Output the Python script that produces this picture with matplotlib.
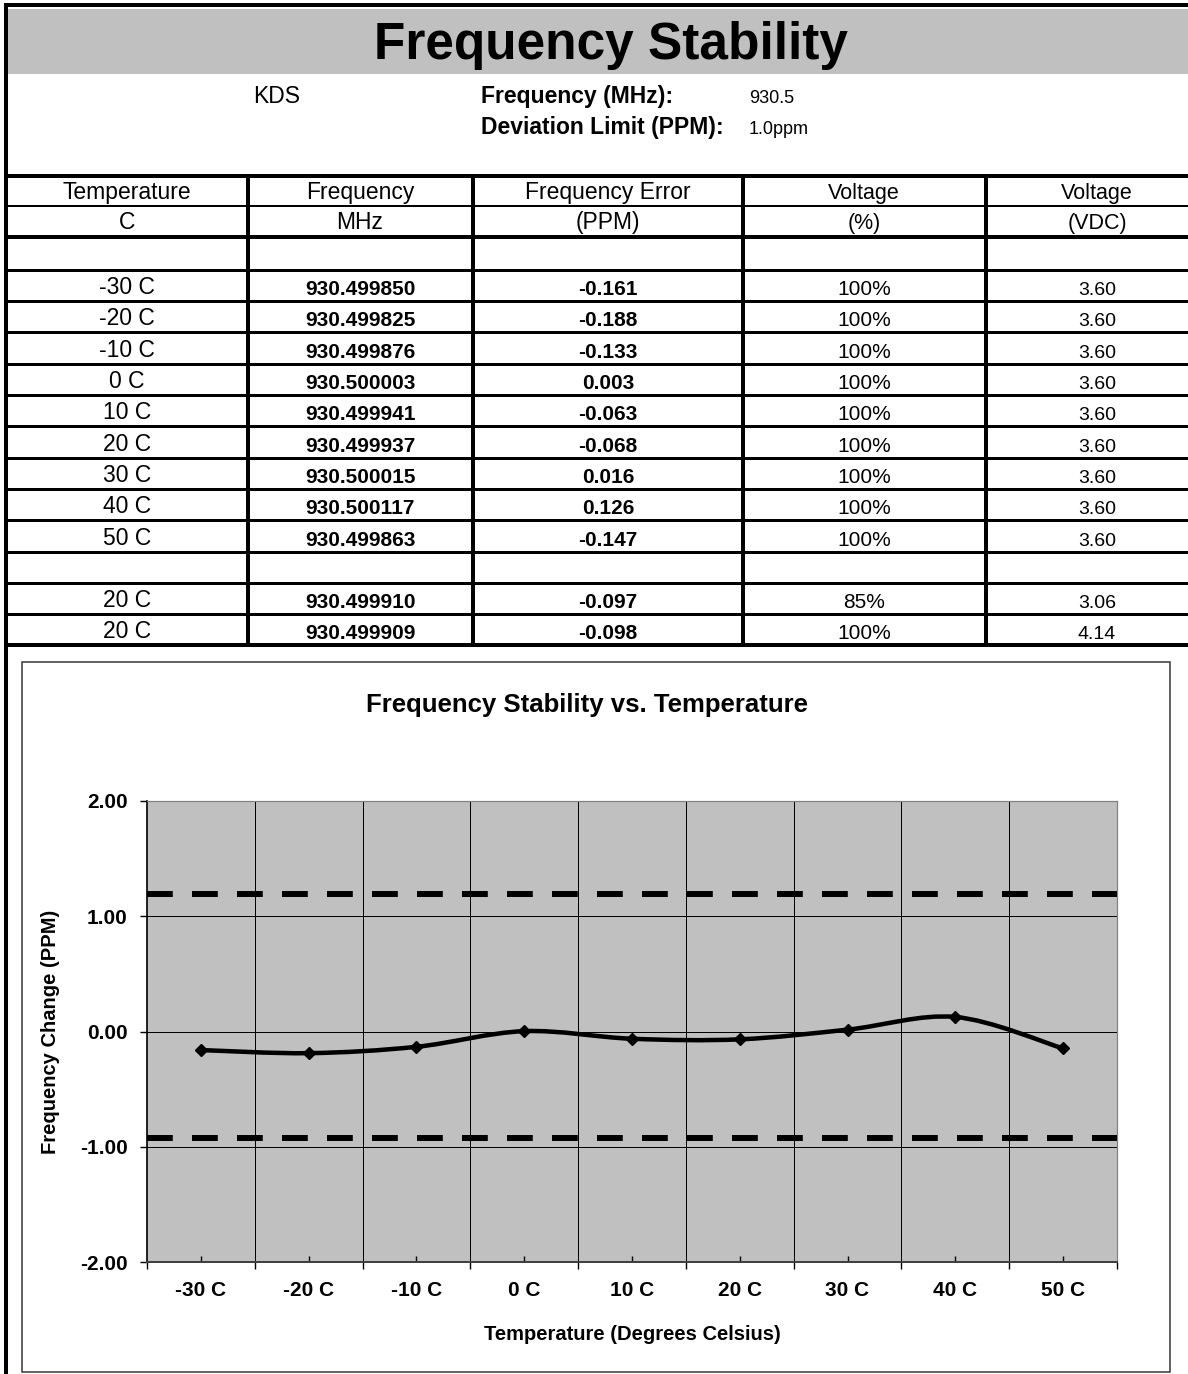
import numpy as np
import matplotlib
matplotlib.use("Agg")
import matplotlib.pyplot as plt
from matplotlib.path import Path
from matplotlib.patches import PathPatch, Rectangle

plt.rcParams["font.family"] = ["Liberation Sans", "DejaVu Sans"]

# header info
maker = "KDS"
center_freq = "930.5"
dev_limit = "1.0ppm"

# temperature sweep
temps = ["-30 C", "-20 C", "-10 C", "0 C", "10 C", "20 C", "30 C", "40 C", "50 C"]
freq_mhz = [930.499850, 930.499825, 930.499876, 930.500003, 930.499941,
            930.499937, 930.500015, 930.500117, 930.499863]
err_ppm = [-0.161, -0.188, -0.133, 0.003, -0.063, -0.068, 0.016, 0.126, -0.147]
volt_pct = [100, 100, 100, 100, 100, 100, 100, 100, 100]
volt_vdc = [3.60, 3.60, 3.60, 3.60, 3.60, 3.60, 3.60, 3.60, 3.60]

# voltage sweep at 20 C
v_temps = ["20 C", "20 C"]
v_freq = [930.499910, 930.499909]
v_err = [-0.097, -0.098]
v_pct = [85, 100]
v_vdc = [3.06, 4.14]

# limit lines on the chart
upper_limit = 1.19
lower_limit = -0.92

W, H = 1188, 1374
PX = 0.72  # points per pixel at dpi 100

fig = plt.figure(figsize=(W / 100, H / 100), dpi=100)
page = fig.add_axes([0, 0, 1, 1])
page.set_xlim(0, W)
page.set_ylim(H, 0)
page.axis("off")

# outer frame + title band
page.plot([5, W], [5, 5], color="black", lw=4 * PX, solid_capstyle="butt")
page.plot([6, 6], [3, H], color="black", lw=4 * PX, solid_capstyle="butt")
page.add_patch(Rectangle((8, 9), W - 8, 65, facecolor="#c0c0c0", edgecolor="none"))
page.text(611, 45, "Frequency Stability", fontsize=37, fontweight="bold",
          ha="center", va="center")

page.text(253, 103, maker, fontsize=16.5, ha="left", va="baseline")
page.text(481, 103, "Frequency (MHz):", fontsize=16.5, fontweight="bold", va="baseline")
page.text(749, 103, center_freq, fontsize=13, va="baseline")
page.text(481, 134, "Deviation Limit (PPM):", fontsize=16.5, fontweight="bold", va="baseline")
page.text(749, 134, dev_limit, fontsize=13, va="baseline")

# table grid
col_x = [7, 248, 473, 743, 986]
col_c = [127, 360, 608, 864, 1097]
row_y = [176, 206, 237, 270, 301, 332, 364, 395, 426, 458, 489, 520, 552, 583, 614, 645]
thick = {176: 4, 237: 4, 645: 4, 206: 2}
for y in row_y:
    page.plot([7, W], [y, y], color="black", lw=thick.get(y, 3) * PX, solid_capstyle="butt")
for x in col_x[1:]:
    page.plot([x, x], [176, 645], color="black", lw=4 * PX, solid_capstyle="butt")

hdr1 = ["Temperature", "Frequency", "Frequency Error", "Voltage", "Voltage"]
hdr2 = ["C", "MHz", "(PPM)", "(%)", "(VDC)"]
hsize = [16.5, 16.5, 16.5, 15.5, 15.5]
for i in range(5):
    page.text(col_c[i], 199, hdr1[i], fontsize=hsize[i], ha="center", va="baseline")
    page.text(col_c[i], 229, hdr2[i], fontsize=hsize[i], ha="center", va="baseline")


def table_row(bottom, temp, f, e, p, v):
    page.text(col_c[0], bottom - 7, temp, fontsize=16.5, ha="center", va="baseline")
    page.text(col_c[1], bottom - 6, "%.6f" % f, fontsize=15, fontweight="bold",
              ha="center", va="baseline")
    page.text(col_c[2], bottom - 6, "%.3f" % e, fontsize=15, fontweight="bold",
              ha="center", va="baseline")
    page.text(col_c[3], bottom - 6, "%d%%" % p, fontsize=15, ha="center", va="baseline")
    page.text(col_c[4], bottom - 6, "%.2f" % v, fontsize=14, ha="center", va="baseline")


for i in range(len(temps)):
    table_row(row_y[4 + i], temps[i], freq_mhz[i], err_ppm[i], volt_pct[i], volt_vdc[i])
for i in range(len(v_temps)):
    table_row(row_y[14 + i], v_temps[i], v_freq[i], v_err[i], v_pct[i], v_vdc[i])

# chart frame
page.add_patch(Rectangle((22, 662), 1148, 710, facecolor="white",
                         edgecolor="#333333", lw=1.5 * PX))
page.text(587, 705, "Frequency Stability vs. Temperature", fontsize=18.5,
          fontweight="bold", ha="center", va="center")

left, right, top, bottom = 147, 1117, 801, 1262
ax = fig.add_axes([left / W, 1 - bottom / H, (right - left) / W, (bottom - top) / H])
ax.set_facecolor("#c0c0c0")
n = len(temps)
ax.set_xlim(-0.5, n - 0.5)
ax.set_ylim(-2, 2)

for y in [-1, 0, 1]:
    ax.axhline(y, color="black", lw=1 * PX, zorder=1)
for x in np.arange(n - 1) + 0.5:
    ax.axvline(x, color="black", lw=1 * PX, zorder=1)

for lim in [upper_limit, lower_limit]:
    ax.axhline(lim, color="black", lw=6 * PX, dashes=(4.3, 3.2),
               dash_capstyle="butt", zorder=2)

# smoothed line (Excel-style bezier through the points)
xs = np.arange(n, dtype=float)
pts = np.column_stack([xs, err_ppm])
verts = [pts[0]]
codes = [Path.MOVETO]
for i in range(n - 1):
    p0 = pts[max(i - 1, 0)]
    p1 = pts[i]
    p2 = pts[i + 1]
    p3 = pts[min(i + 2, n - 1)]
    verts += [p1 + (p2 - p0) / 6, p2 - (p3 - p1) / 6, p2]
    codes += [Path.CURVE4] * 3
ax.add_patch(PathPatch(Path(verts, codes), facecolor="none", edgecolor="black",
                       lw=4.5 * PX, capstyle="round", zorder=3))
ax.plot(xs, err_ppm, linestyle="none", marker="D", markersize=6,
        color="black", zorder=4)

ax.set_yticks([-2, -1, 0, 1, 2])
ax.set_yticklabels(["%.2f" % v for v in [-2, -1, 0, 1, 2]], fontsize=15, fontweight="bold")
ax.set_xticks(xs)
ax.set_xticklabels(temps, fontsize=15, fontweight="bold")
ax.set_xticks(np.arange(n + 1) - 0.5, minor=True)
ax.tick_params(axis="y", direction="out", length=5, width=1, pad=9)
ax.tick_params(axis="x", which="major", direction="in", length=4, width=1, pad=14)
ax.tick_params(axis="x", which="minor", direction="out", length=5, width=1)

ax.spines["left"].set_color("black")
ax.spines["left"].set_linewidth(1.2)
ax.spines["bottom"].set_color("#404040")
ax.spines["bottom"].set_linewidth(2 * PX)
for s in ["top", "right"]:
    ax.spines[s].set_color("#808080")
    ax.spines[s].set_linewidth(1.2 * PX)

ax.set_xlabel("Temperature (Degrees Celsius)", fontsize=14.5, fontweight="bold")
ax.xaxis.set_label_coords(0.5, -0.137)
ax.set_ylabel("Frequency Change (PPM)", fontsize=14.5, fontweight="bold")
ax.yaxis.set_label_coords(-0.09, 0.5)

fig.savefig("out.png", dpi=100)
